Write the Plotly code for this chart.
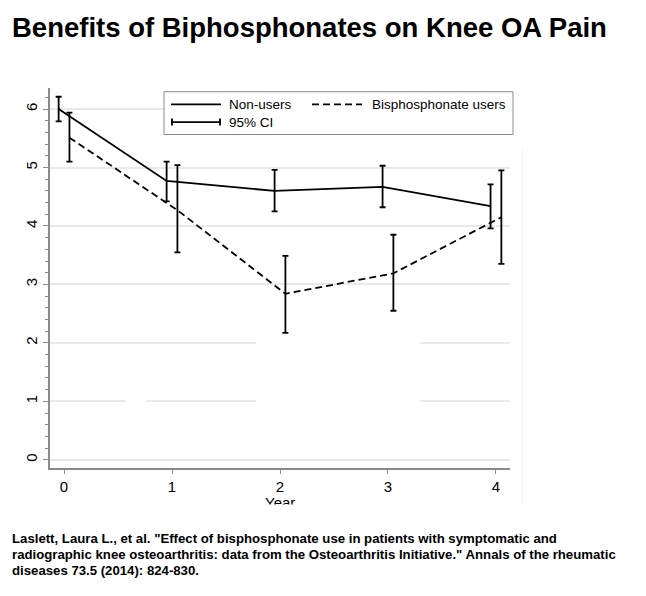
import plotly.graph_objects as go

# ---------------------------------------------------------------
# Data
# ---------------------------------------------------------------
years = [0, 1, 2, 3, 4]

nonusers_mean = [6.00, 4.77, 4.60, 4.67, 4.34]
nonusers_lo   = [5.79, 4.42, 4.25, 4.32, 3.96]
nonusers_hi   = [6.21, 5.10, 4.96, 5.03, 4.71]

bisph_mean = [5.51, 4.27, 2.84, 3.19, 4.15]
bisph_lo   = [5.10, 3.55, 2.17, 2.55, 3.35]
bisph_hi   = [5.94, 5.04, 3.49, 3.85, 4.95]

y_ticks = [0, 1, 2, 3, 4, 5, 6]
x_ticks = [0, 1, 2, 3, 4]

TITLE = 'Benefits of Biphosphonates on Knee OA Pain'
CITATION = [
    'Laslett, Laura L., et al. "Effect of bisphosphonate use in patients with symptomatic and',
    'radiographic knee osteoarthritis: data from the Osteoarthritis Initiative." Annals of the rheumatic',
    'diseases 73.5 (2014): 824-830.',
]

# ---------------------------------------------------------------
# Style
# ---------------------------------------------------------------
FONT      = 'Liberation Sans, Arial, sans-serif'
AXIS_COL  = '#8a8a8a'
GRID_COL  = '#e9e9e9'
LINE_COL  = 'black'
DASH      = '7px,4px'
OFFSET    = 0.05          # side-by-side shift of the two groups

BODY = 8                  # default page margin around the plot div
W, H = 646 - BODY, 596 - BODY
L, R, T, B = 42, 136, 80, 128.3
PW, PH = W - L - R, H - T - B


# helpers: page pixel -> paper fraction
def px(xp):
    return (xp - BODY - L) / PW


def py(yp):
    return (H - B - (yp - BODY)) / PH


def err(mean, lo, hi):
    return dict(type='data', symmetric=False,
                array=[h - m for m, h in zip(mean, hi)],
                arrayminus=[m - l for m, l in zip(mean, lo)],
                color=LINE_COL, thickness=1.8, width=3)


fig = go.Figure()

fig.add_trace(go.Scatter(
    x=[v - OFFSET for v in years], y=nonusers_mean, mode='lines',
    name='Non-users', line=dict(color=LINE_COL, width=1.8),
    error_y=err(nonusers_mean, nonusers_lo, nonusers_hi),
))
fig.add_trace(go.Scatter(
    x=[v + OFFSET for v in years], y=bisph_mean, mode='lines',
    name='Bisphosphonate users',
    line=dict(color=LINE_COL, width=1.8, dash=DASH),
    error_y=err(bisph_mean, bisph_lo, bisph_hi),
))

# ---------------------------------------------------------------
# Hand-drawn legend (Stata style, with capped CI symbol)
# ---------------------------------------------------------------
shapes = [
    dict(type='rect', xref='paper', yref='paper',
         x0=px(164), x1=px(513), y0=py(134.5), y1=py(91.7),
         fillcolor='white', line=dict(color=AXIS_COL, width=1), layer='above'),
    dict(type='line', xref='paper', yref='paper',
         x0=px(171), x1=px(221), y0=py(104.3), y1=py(104.3),
         line=dict(color=LINE_COL, width=1.8), layer='above'),
    dict(type='line', xref='paper', yref='paper',
         x0=px(312), x1=px(362), y0=py(104.3), y1=py(104.3),
         line=dict(color=LINE_COL, width=1.8, dash=DASH), layer='above'),
    dict(type='line', xref='paper', yref='paper',
         x0=px(171), x1=px(221), y0=py(122), y1=py(122),
         line=dict(color=LINE_COL, width=1.8), layer='above'),
]
for xc in (172, 220):
    shapes.append(dict(type='line', xref='paper', yref='paper',
                       x0=px(xc), x1=px(xc), y0=py(118.5), y1=py(125.5),
                       line=dict(color=LINE_COL, width=1.8), layer='above'))

# white gaps in the gridlines, as in the source image
for (xa, xb, ya, yb) in [(1.78, 3.3, 0.8, 2.3), (0.57, 0.76, 0.9, 1.1)]:
    shapes.append(dict(type='rect', xref='x', yref='y',
                       x0=xa, x1=xb, y0=ya, y1=yb,
                       fillcolor='white', line=dict(width=0), layer='between'))

# faint vertical seam at the right of the image
shapes.append(dict(type='line', xref='paper', yref='paper',
                   x0=px(522.5), x1=px(522.5), y0=py(505), y1=py(150),
                   line=dict(color='#f2f2f2', width=1.5)))

legend_font = dict(family=FONT, size=13.5, color='black')
annotations = [
    dict(text='Non-users', x=px(227), y=py(104.3), xref='paper', yref='paper',
         xanchor='left', yanchor='middle', showarrow=False, font=legend_font),
    dict(text='Bisphosphonate users', x=px(370), y=py(104.3), xref='paper',
         yref='paper', xanchor='left', yanchor='middle', showarrow=False,
         font=legend_font),
    dict(text='95% CI', x=px(227), y=py(122), xref='paper', yref='paper',
         xanchor='left', yanchor='middle', showarrow=False, font=legend_font),
    # axis title, cut off at the bottom like the source
    dict(text='Year', x=px(280), y=py(492), xref='paper', yref='paper',
         xanchor='center', yanchor='top', showarrow=False,
         font=dict(family=FONT, size=15, color='black')),
    dict(text='', x=px(150), y=py(503.5), xref='paper', yref='paper',
         xanchor='left', yanchor='top', showarrow=False, width=300, height=20,
         bgcolor='white'),
]

cite_font = dict(family=FONT, size=13.2, color='black', weight='bold')
for i, line in enumerate(CITATION):
    annotations.append(dict(
        text=line, x=px(10), y=py(538 + 16 * i), xref='paper', yref='paper',
        xanchor='left', yanchor='middle', showarrow=False, font=cite_font))

fig.update_layout(
    width=W, height=H,
    margin=dict(l=L, r=R, t=T, b=B),
    paper_bgcolor='white', plot_bgcolor='white',
    showlegend=False,
    title=dict(text=TITLE, xref='container', yref='container',
               x=(12 - BODY) / W, xanchor='left',
               y=1 - (27 - BODY) / H, yanchor='middle',
               font=dict(family=FONT, size=27.5, color='black', weight='bold')),
    shapes=shapes,
    annotations=annotations,
)

fig.update_xaxes(
    range=[-0.13, 4.13], tickvals=x_ticks, ticktext=[str(v) for v in x_ticks],
    showgrid=False, zeroline=False,
    showline=True, linecolor=AXIS_COL, linewidth=1.5,
    ticks='outside', ticklen=4, tickcolor=AXIS_COL,
    tickfont=dict(family=FONT, size=15, color='black'),
)
fig.update_yaxes(
    range=[-0.14, 6.36], tickvals=y_ticks, ticktext=[str(v) for v in y_ticks],
    tickangle=-90,
    showgrid=True, gridcolor=GRID_COL, gridwidth=1.5, zeroline=False,
    showline=True, linecolor=AXIS_COL, linewidth=1.5,
    ticks='outside', ticklen=5, tickcolor=AXIS_COL,
    minor=dict(dtick=0.2, ticks='outside', ticklen=3, tickcolor=AXIS_COL,
               showgrid=False),
    tickfont=dict(family=FONT, size=15, color='black'),
)

fig.write_html('out.html')
